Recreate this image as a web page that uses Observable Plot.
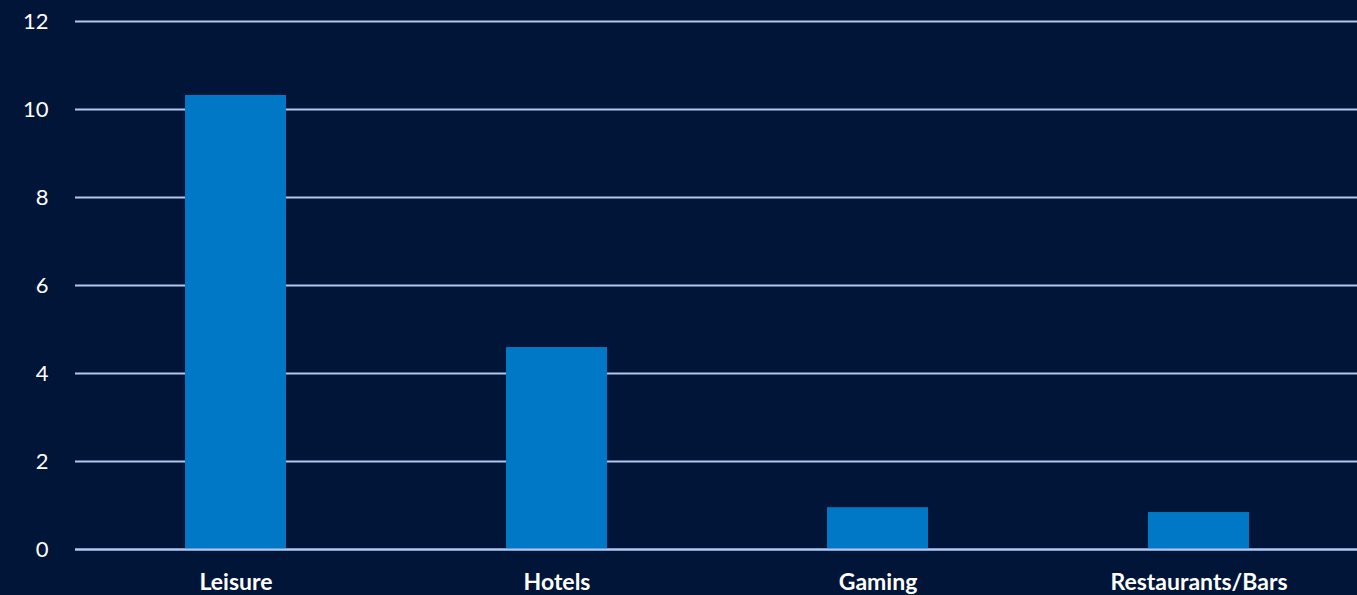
<!DOCTYPE html>
<html>
<head>
<meta charset="utf-8">
<script src="https://cdn.jsdelivr.net/npm/d3@7"></script>
<script src="https://cdn.jsdelivr.net/npm/@observablehq/plot@0.6"></script>
<style>
  html, body { margin: 0; padding: 0; background: #001538; overflow: hidden; }
  #chart svg { display: block; }
</style>
</head>
<body>
<div id="chart"></div>
<script>
const categories = ["Leisure", "Hotels", "Gaming", "Restaurants/Bars"];
const values = [10.32, 4.59, 0.95, 0.84];
const yTicks = [0, 2, 4, 6, 8, 10, 12];

const data = categories.map((c, i) => ({category: c, value: values[i]}));

const chart = Plot.plot({
  width: 1357,
  height: 595,
  marginLeft: 75,
  marginRight: -3,
  marginTop: 21,
  marginBottom: 46,
  style: {background: "#001538", color: "#ffffff", fontFamily: "Lato, 'Open Sans', sans-serif", fontSize: "20px"},
  x: {domain: categories, paddingInner: 0.685, paddingOuter: 0.3425, label: null},
  y: {domain: [0, 12], ticks: yTicks, label: null},
  marks: [
    Plot.gridY(yTicks, {stroke: "#b0c8f2", strokeOpacity: 1, strokeWidth: 2}),
    Plot.barY(data, {x: "category", y: "value", fill: "#0078c6"}),
    Plot.ruleY([0], {stroke: "#b0c8f2", strokeWidth: 2}),
    Plot.axisY(yTicks, {tickSize: 0, tickPadding: 27, fill: "#ffffff", fontSize: 22, label: null}),
    Plot.axisX({tickSize: 0, tickPadding: 24, fill: "#ffffff", fontSize: 23, fontWeight: "bold", label: null})
  ]
});
document.getElementById("chart").appendChild(chart);
</script>
</body>
</html>
